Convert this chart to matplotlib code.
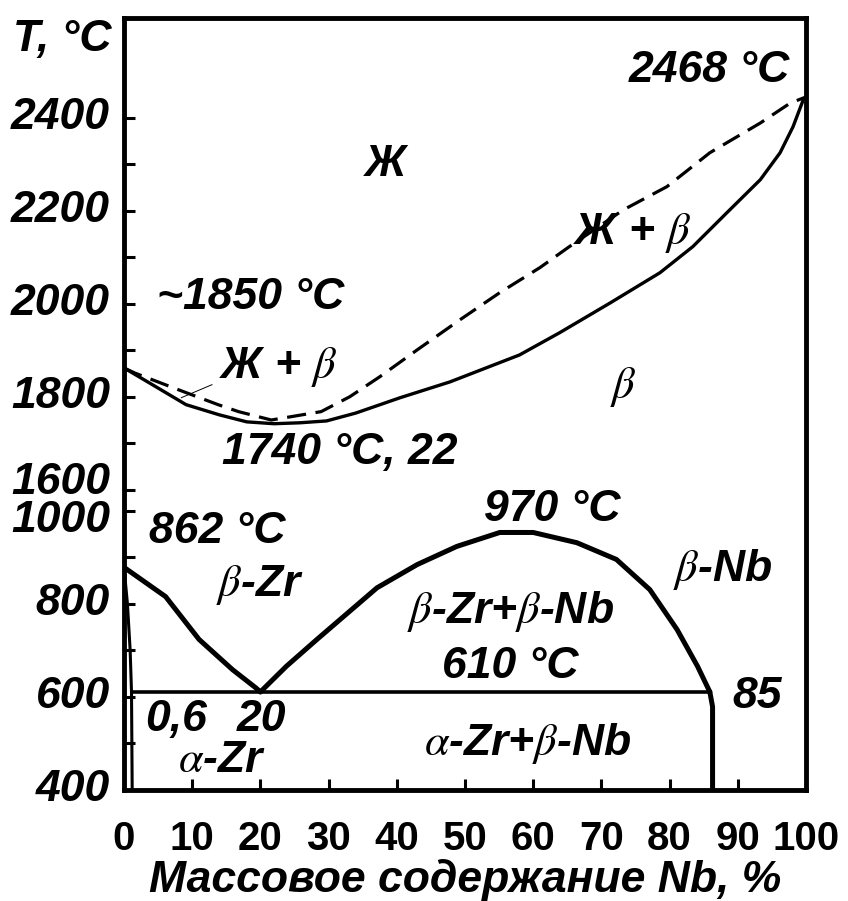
import numpy as np
import matplotlib
matplotlib.use('Agg')
import matplotlib.pyplot as plt
from matplotlib.transforms import offset_copy

plt.rcParams['font.family'] = ['Liberation Sans', 'DejaVu Sans']
plt.rcParams['mathtext.fontset'] = 'stix'

# liquidus (dashed) and solidus, high temperature part
liq_x = [0, 1.6, 8, 13.8, 16.8, 21.6, 28.9, 33.1, 37.5, 43, 49.3, 55.1, 61, 65.3, 73.2, 79.6, 85.9, 93.3, 97.7, 100]
liq_t = [1862, 1851, 1815, 1783, 1768, 1750, 1768, 1800, 1843, 1901, 1966, 2024, 2078, 2123, 2202, 2252, 2325, 2389, 2432, 2445]
sol_x = [0, 3.7, 9.1, 14, 18, 22, 25.8, 29.7, 34, 40.5, 47.8, 58, 63.9, 71.3, 78.6, 83.4, 88.4, 93.3, 96.2, 98.1, 99.6, 100]
sol_t = [1862, 1830, 1783, 1761, 1746, 1742, 1744, 1748, 1765, 1798, 1832, 1890, 1938, 2002, 2067, 2123, 2196, 2267, 2325, 2381, 2439, 2445]

# low temperature part
bzr_x = [0, 6.1, 11, 15.9, 19.3, 20]
bzr_t = [878, 815, 723, 658, 619, 610]
dome_x = [20, 23.8, 28.3, 37.1, 43, 48.8, 55.1, 60, 66.4, 72.2, 77.1, 81.1, 84.1, 85.9]
dome_t = [610, 665, 723, 834, 884, 923, 953, 953, 931, 895, 830, 744, 665, 610]
azr_x = [0, 0.5, 0.9, 1.1, 1.2]
azr_t = [878, 800, 700, 610, 400]
bnb_x = [85.9, 86.3, 86.3]
bnb_t = [610, 578, 400]
mono_x = [1.1, 85.9]
mono_t = [610, 610]
lead_x = [8.4, 12.9]
lead_t = [1798, 1826]

yticks = [400, 600, 800, 1000, 1600, 1800, 2000, 2200, 2400]
yminor = [500, 700, 900, 1700, 1900, 2100, 2300]
xticks = list(range(0, 101, 10))


# broken temperature axis: 1000..1600 squeezed
def fwd(t):
    t = np.asarray(t, dtype=float)
    return np.where(t <= 1000, t, np.where(t >= 1600, t - 555, 1000 + (t - 1000) * 0.075))


def inv(f):
    f = np.asarray(f, dtype=float)
    return np.where(f <= 1000, f, np.where(f >= 1045, f + 555, 1000 + (f - 1000) / 0.075))


fig = plt.figure(figsize=(8.48, 9.01), dpi=100)
ax = fig.add_axes([124 / 848, 1 - 789.5 / 901, 682 / 848, 772 / 901])
ax.set_yscale('function', functions=(fwd, inv))
ax.set_xlim(0, 100)
ax.set_ylim(400, 2616)

line = dict(color='k', solid_joinstyle='round', solid_capstyle='round')
ax.plot(sol_x, sol_t, lw=2.4, **line)
ax.plot(liq_x, liq_t, color='k', lw=2.3, dashes=(6, 3))
ax.plot(lead_x, lead_t, color='k', lw=0.7)
ax.plot(bzr_x, bzr_t, lw=3.6, **line)
ax.plot(dome_x, dome_t, lw=3.6, **line)
ax.plot(azr_x, azr_t, lw=2.2, **line)
ax.plot(bnb_x, bnb_t, lw=3.6, **line)
ax.plot(mono_x, mono_t, color='k', lw=2.6)

for s in ax.spines.values():
    s.set_linewidth(3.5)

ax.set_xticks(xticks)
ax.set_xticklabels([str(v) for v in xticks], fontsize=29, fontweight='bold')
ax.tick_params(axis='x', direction='in', length=8, width=2.2, pad=22)
ax.set_yticks(yticks)
ax.set_yticks(yminor, minor=True)
ax.set_yticklabels([])
ax.tick_params(axis='y', which='both', direction='in', length=8, width=2.2)

# y tick labels, shifted where the axis is broken
shift = {1000: -7, 1600: 5}
for v in yticks:
    tr = offset_copy(ax.get_yaxis_transform(), fig=fig, x=-10, y=shift.get(v, 0), units='points')
    ax.text(0, v, str(v), transform=tr, ha='right', va='center', fontsize=32,
            fontweight='bold', fontstyle='italic')

ax.set_xlabel('Массовое содержание Nb, %', fontsize=32, fontweight='bold',
              fontstyle='italic', labelpad=1)
fig.text(62 / 848, 1 - 40 / 901, 'T, °C', ha='center', va='center', fontsize=32,
         fontweight='bold', fontstyle='italic')

lab = dict(ha='center', va='center', fontsize=32, fontweight='bold', fontstyle='italic')
ax.text(38.3, 2299, 'Ж', **lab)
ax.text(85.8, 2503, '2468 °C', **lab)
ax.text(74.6, 2153, r'Ж + $\beta$', **lab)
ax.text(18.5, 2013, '~1850 °C', **lab)
ax.text(22.6, 1865, r'Ж + $\beta$', **lab)
ax.text(73.2, 1820, r'$\beta$', **lab)
ax.text(31.7, 1680, '1740 °C, 22', **lab)
ax.text(62.8, 1030, '970 °C', **lab)
ax.text(13.6, 955, '862 °C', **lab)
ax.text(19.9, 841, r'$\beta$-Zr', **lab)
ax.text(87.8, 873, r'$\beta$-Nb', **lab)
ax.text(56.7, 783, r'$\beta$-Zr+$\beta$-Nb', **lab)
ax.text(56.6, 665, '610 °C', **lab)
ax.text(92.8, 600, '85', **lab)
ax.text(7.6, 551, '0,6', **lab)
ax.text(20.2, 551, '20', **lab)
ax.text(14.4, 462, r'$\alpha$-Zr', **lab)
ax.text(59.2, 499, r'$\alpha$-Zr+$\beta$-Nb', **lab)

fig.savefig('out.png', dpi=100)
